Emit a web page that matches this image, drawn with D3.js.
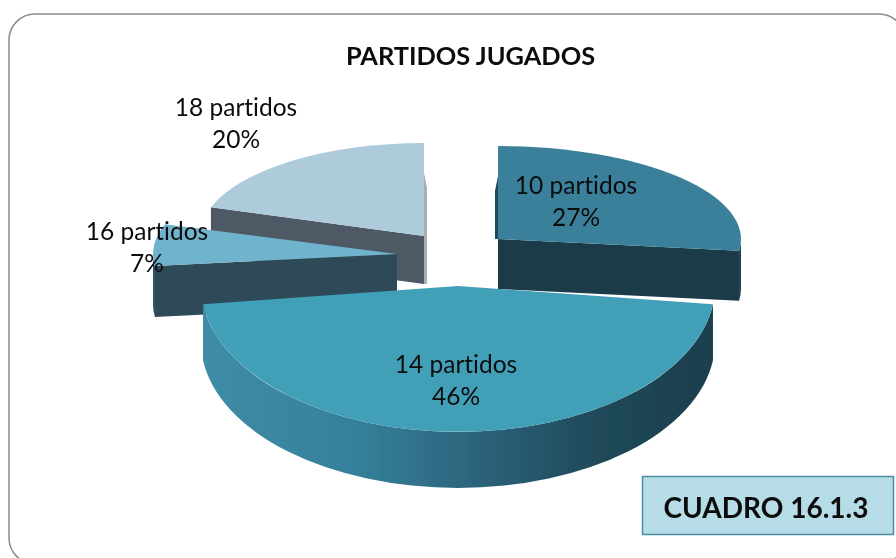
<!DOCTYPE html>
<html><head><meta charset="utf-8">
<script src="https://cdn.jsdelivr.net/npm/d3@7"></script>
<style>html,body{margin:0;padding:0;background:#fff}svg{display:block}text{font-family:Lato,"Open Sans",sans-serif;fill:#0c0c0c;font-variant-ligatures:none}</style>
</head><body><div id="c"></div>
<script>
const categories = ["10 partidos","14 partidos","16 partidos","18 partidos"];
const percents = [27,46,7,20];
const titleText = "PARTIDOS JUGADOS";
const boxText = "CUADRO 16.1.3";

// perspective placement of each exploded slice (not data)
const apexX = [498,458,397,424];
const apexY = [239,286,254,236];
const radX  = [243,257,244,224];
const radY  = [93,146,96,93];
const depth = [50,56,51,48];
const sliver= [-3,0,0,3];
const faceColors = ["#3b809b","#429fb8","#70b3cc","#aecbdc"];
const wallColors = ["#1a3a48","#2f6e86","#2e4a58","#4e5a66"];
const sliverColors = ["#1f4a5c","#000","#000","#a9aeb3"];
const drawOrder = [3,0,2,1];
const labelX = [576,456,147,236];
const labelY = [194,373,240,116];
const labelGap = 31.5;

const W=896,H=558;
const svg=d3.select("#c").append("svg").attr("width",W).attr("height",H);
const defs=svg.append("defs");
const g=defs.append("linearGradient").attr("id","rim").attr("gradientUnits","userSpaceOnUse")
  .attr("x1",203).attr("x2",712).attr("y1",0).attr("y2",0);
[[0,"#3f8ca7"],[0.3,"#35809a"],[0.55,"#2b6279"],[0.8,"#1f4757"],[1,"#1c3f4e"]].forEach(s=>g.append("stop").attr("offset",s[0]).attr("stop-color",s[1]));
const f=defs.append("filter").attr("id","soft").attr("x","-5%").attr("y","-5%").attr("width","110%").attr("height","115%");
f.append("feGaussianBlur").attr("stdDeviation",0.6);

svg.append("rect").attr("x",9).attr("y",14).attr("width",896).attr("height",550).attr("rx",26).attr("ry",26)
  .attr("fill","#fff").attr("stroke","#8c8c8c").attr("stroke-width",1.5);

const pie=d3.pie().sort(null).value(d=>d)(percents);
const arc=d3.arc().innerRadius(0).outerRadius(1);

function pt(i,a){return [apexX[i]+radX[i]*Math.sin(a), apexY[i]-radY[i]*Math.cos(a)];}
function cutWall(i,a){
  const p=pt(i,a),d=depth[i];
  return `M${apexX[i]},${apexY[i]}L${p[0]},${p[1]}L${p[0]},${p[1]+d}L${apexX[i]},${apexY[i]+d}Z`;
}
function rimWall(i,a0,a1){
  const p=pt(i,a0),q=pt(i,a1),d=depth[i],rx=radX[i],ry=radY[i],l=(a1-a0)>Math.PI?1:0;
  return `M${p[0]},${p[1]}A${rx},${ry} 0 ${l} 1 ${q[0]},${q[1]}L${q[0]},${q[1]+d}A${rx},${ry} 0 ${l} 0 ${p[0]},${p[1]+d}Z`;
}
const chart=svg.append("g").attr("filter","url(#soft)");
drawOrder.forEach(i=>{
  const s=pie[i],gg=chart.append("g");
  if(sliver[i]){
    const p=pt(i,0);
    const dx=sliver[i];
    const low=dx>0?depth[i]:0;
    gg.append("path").attr("fill",sliverColors[i])
      .attr("d",`M${p[0]},${p[1]+30}L${apexX[i]},${apexY[i]+low}L${apexX[i]+dx},${apexY[i]+low}L${p[0]+dx},${p[1]+45}Z`);
  }
  if(i===1){
    gg.append("path").attr("fill","url(#rim)").attr("d",rimWall(i,s.startAngle,s.endAngle));
  } else {
    const cut = i===0? s.endAngle : s.startAngle;
    gg.append("path").attr("fill",wallColors[i]).attr("d",cutWall(i,cut));
    if(i===0) gg.append("path").attr("fill",wallColors[i]).attr("d",rimWall(i,Math.PI/2,s.endAngle));
    if(i===2) gg.append("path").attr("fill",wallColors[i]).attr("d",rimWall(i,s.startAngle,3*Math.PI/2));
  }
  gg.append("path").attr("fill",faceColors[i]).attr("d",arc(s))
    .attr("transform",`translate(${apexX[i]},${apexY[i]}) scale(${radX[i]},${radY[i]})`);
});

svg.append("text").attr("x",470.5).attr("y",65).attr("text-anchor","middle")
  .attr("font-size",25.4).attr("font-weight",700).text(titleText);

categories.forEach((c,i)=>{
  const t=svg.append("text").attr("text-anchor","middle").attr("font-size",24.5);
  t.append("tspan").attr("x",labelX[i]).attr("y",labelY[i]).text(c);
  t.append("tspan").attr("x",labelX[i]).attr("y",labelY[i]+labelGap).text(percents[i]+"%");
});

svg.append("rect").attr("x",642.5).attr("y",476.5).attr("width",251).attr("height",58)
  .attr("fill","#b6dce8").attr("stroke","#4a8fa8").attr("stroke-width",1.5);
svg.append("text").attr("x",766).attr("y",518).attr("text-anchor","middle")
  .attr("font-size",28).attr("font-weight",700).text(boxText);
</script></body></html>
